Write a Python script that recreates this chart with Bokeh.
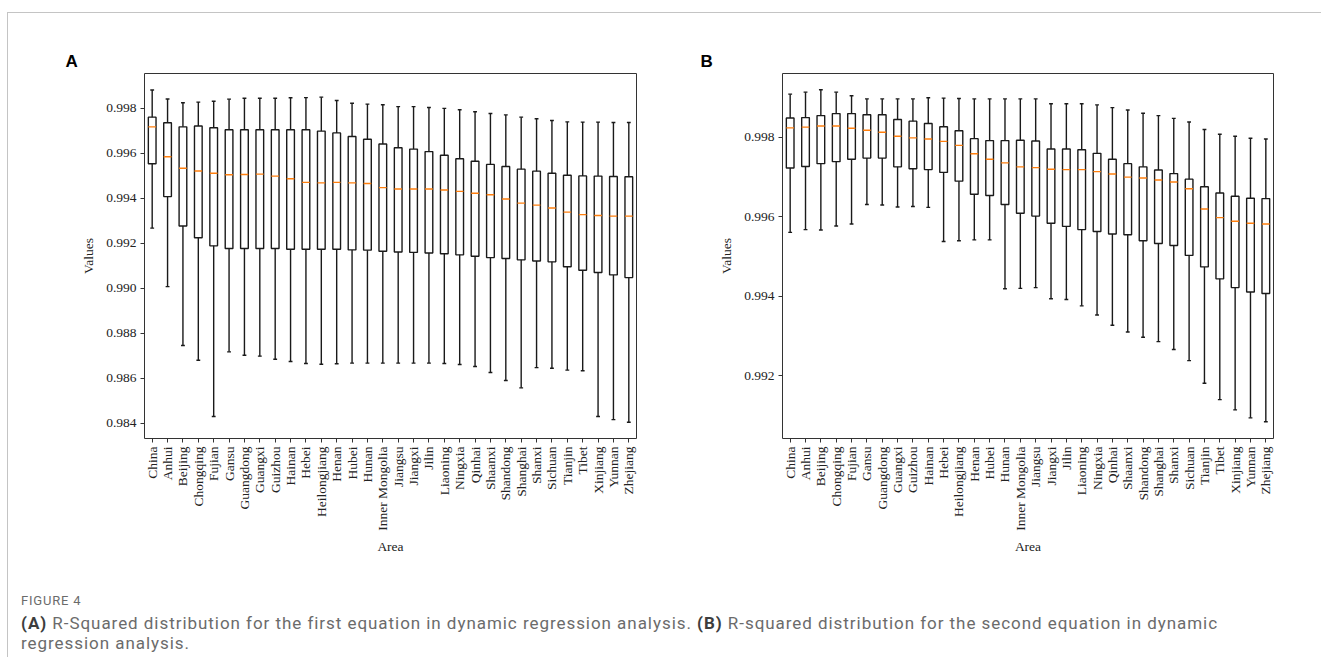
import numpy as np
from bokeh.plotting import figure
from bokeh.models import FixedTicker, PrintfTickFormatter, Div, Range1d, Spacer
from bokeh.layouts import row, column
from bokeh.embed import file_html
from bokeh.resources import INLINE

areas = ["China", "Anhui", "Beijing", "Chongqing", "Fujian", "Gansu", "Guangdong", "Guangxi",
         "Guizhou", "Hainan", "Hebei", "Heilongjiang", "Henan", "Hubei", "Hunan", "Inner Mongolia",
         "Jiangsu", "Jiangxi", "Jilin", "Liaoning", "Ningxia", "Qinhai", "Shaanxi", "Shandong",
         "Shanghai", "Shanxi", "Sichuan", "Tianjin", "Tibet", "Xinjiang", "Yunnan", "Zhejiang"]

# Panel A (first equation)
hiA = [0.99881, 0.99841, 0.99824, 0.99827, 0.99831, 0.99840, 0.99844, 0.99844, 0.99844, 0.99846, 0.99847,
       0.99849, 0.99834, 0.99822, 0.99818, 0.99815, 0.99807, 0.99807, 0.99803, 0.99799, 0.99793, 0.99784,
       0.99776, 0.99770, 0.99760, 0.99753, 0.99745, 0.99739, 0.99738, 0.99738, 0.99736, 0.99736]
q3A = [0.99760, 0.99735, 0.99717, 0.99721, 0.99713, 0.99704, 0.99704, 0.99704, 0.99704, 0.99704, 0.99704,
       0.99698, 0.99690, 0.99674, 0.99662, 0.99641, 0.99624, 0.99618, 0.99607, 0.99591, 0.99575, 0.99564,
       0.99550, 0.99541, 0.99529, 0.99520, 0.99511, 0.99502, 0.99499, 0.99498, 0.99496, 0.99495]
medA = [0.99717, 0.99584, 0.99533, 0.99521, 0.99511, 0.99504, 0.99505, 0.99507, 0.99498, 0.99486, 0.99470,
        0.99468, 0.99470, 0.99468, 0.99465, 0.99447, 0.99441, 0.99441, 0.99441, 0.99436, 0.99430, 0.99422,
        0.99415, 0.99396, 0.99378, 0.99369, 0.99356, 0.99338, 0.99327, 0.99323, 0.99320, 0.99320]
q1A = [0.99553, 0.99407, 0.99276, 0.99224, 0.99188, 0.99176, 0.99176, 0.99176, 0.99176, 0.99173, 0.99173,
       0.99173, 0.99173, 0.99170, 0.99169, 0.99164, 0.99161, 0.99159, 0.99156, 0.99153, 0.99148, 0.99142,
       0.99136, 0.99132, 0.99126, 0.99121, 0.99117, 0.99095, 0.99080, 0.99070, 0.99059, 0.99047]
loA = [0.99267, 0.99007, 0.98745, 0.98680, 0.98430, 0.98717, 0.98702, 0.98698, 0.98684, 0.98674, 0.98665,
       0.98662, 0.98664, 0.98667, 0.98667, 0.98667, 0.98667, 0.98667, 0.98667, 0.98665, 0.98661, 0.98652,
       0.98625, 0.98590, 0.98557, 0.98647, 0.98644, 0.98636, 0.98633, 0.98430, 0.98416, 0.98404]
ticksA = [0.984, 0.986, 0.988, 0.990, 0.992, 0.994, 0.996, 0.998]

# Panel B (second equation)
hiB = [0.99909, 0.99914, 0.99920, 0.99914, 0.99905, 0.99897, 0.99897, 0.99897, 0.99897, 0.99900, 0.99899,
       0.99898, 0.99897, 0.99897, 0.99897, 0.99897, 0.99897, 0.99885, 0.99885, 0.99885, 0.99882, 0.99875,
       0.99869, 0.99861, 0.99855, 0.99848, 0.99839, 0.99820, 0.99808, 0.99803, 0.99798, 0.99796]
q3B = [0.99849, 0.99850, 0.99855, 0.99860, 0.99860, 0.99857, 0.99857, 0.99845, 0.99841, 0.99835, 0.99827,
       0.99817, 0.99797, 0.99792, 0.99792, 0.99793, 0.99791, 0.99771, 0.99771, 0.99769, 0.99760, 0.99745,
       0.99734, 0.99726, 0.99718, 0.99709, 0.99695, 0.99676, 0.99660, 0.99652, 0.99647, 0.99646]
medB = [0.99824, 0.99826, 0.99829, 0.99829, 0.99823, 0.99818, 0.99813, 0.99803, 0.99799, 0.99796, 0.99790,
        0.99780, 0.99759, 0.99745, 0.99736, 0.99726, 0.99724, 0.99720, 0.99719, 0.99719, 0.99714, 0.99708,
        0.99700, 0.99698, 0.99693, 0.99688, 0.99671, 0.99620, 0.99598, 0.99589, 0.99584, 0.99582]
q1B = [0.99723, 0.99727, 0.99734, 0.99739, 0.99745, 0.99748, 0.99748, 0.99726, 0.99721, 0.99719, 0.99712,
       0.99690, 0.99657, 0.99654, 0.99631, 0.99609, 0.99602, 0.99584, 0.99576, 0.99568, 0.99563, 0.99557,
       0.99555, 0.99540, 0.99533, 0.99528, 0.99503, 0.99474, 0.99444, 0.99422, 0.99411, 0.99407]
loB = [0.99561, 0.99568, 0.99567, 0.99577, 0.99582, 0.99631, 0.99630, 0.99625, 0.99626, 0.99624, 0.99538,
       0.99540, 0.99542, 0.99542, 0.99419, 0.99420, 0.99422, 0.99394, 0.99392, 0.99376, 0.99353, 0.99327,
       0.99310, 0.99297, 0.99286, 0.99266, 0.99238, 0.99181, 0.99140, 0.99114, 0.99094, 0.99084]
ticksB = [0.992, 0.994, 0.996, 0.998]

SERIF = "Liberation Serif"
FRAME = "#333333"
TXT = "#222222"


def panel(letter, lo, q1, med, q3, hi, ticks, yr, width, mbl, mbr, title_offset):
    pos = np.arange(1, len(areas) + 1)
    p = figure(width=width, height=557, x_range=Range1d(0.5, len(areas) + 0.5), y_range=Range1d(*yr),
               output_backend="svg", toolbar_location=None,
               min_border_left=mbl, min_border_right=mbr, min_border_top=60, min_border_bottom=132)
    p.background_fill_color = "white"
    p.border_fill_color = "white"
    p.outline_line_color = FRAME
    p.outline_line_width = 1
    p.xgrid.visible = False
    p.ygrid.visible = False

    lc = "#1a1a1a"
    lw = 1.4
    p.segment(x0=pos, y0=q3, x1=pos, y1=hi, line_color=lc, line_width=lw)
    p.segment(x0=pos, y0=q1, x1=pos, y1=lo, line_color=lc, line_width=lw)
    p.segment(x0=pos - 0.125, y0=hi, x1=pos + 0.125, y1=hi, line_color=lc, line_width=lw)
    p.segment(x0=pos - 0.125, y0=lo, x1=pos + 0.125, y1=lo, line_color=lc, line_width=lw)
    p.vbar(x=pos, width=0.5, bottom=q1, top=q3, fill_color=None, line_color=lc, line_width=lw)
    p.segment(x0=pos - 0.25, y0=med, x1=pos + 0.25, y1=med, line_color="#ff7f0e", line_width=1.4)

    p.xaxis.ticker = FixedTicker(ticks=list(pos))
    p.xaxis.major_label_overrides = {int(i): a for i, a in zip(pos, areas)}
    p.xaxis.major_label_orientation = np.pi / 2
    p.xaxis.axis_label = "Area"
    p.xaxis.axis_label_standoff = 5

    p.yaxis.ticker = FixedTicker(ticks=ticks)
    p.yaxis.formatter = PrintfTickFormatter(format="%.3f")
    p.yaxis.axis_label = "Values"
    p.yaxis.axis_label_standoff = 7

    for axes in (p.xaxis, p.yaxis):
        axes.axis_line_color = None
        axes.major_tick_line_color = FRAME
        axes.major_tick_in = 0
        axes.major_tick_out = 4
        axes.minor_tick_line_color = None
        axes.major_label_text_font = SERIF
        axes.major_label_text_font_size = "13.5px"
        axes.major_label_text_color = TXT
        axes.axis_label_text_font = SERIF
        axes.axis_label_text_font_size = "13.5px"
        axes.axis_label_text_font_style = "normal"
        axes.axis_label_text_color = TXT
        axes.major_label_standoff = 4

    p.title.text = letter
    p.title.align = "left"
    p.title.offset = title_offset
    p.title.text_font = "Liberation Sans"
    p.title.text_font_style = "bold"
    p.title.text_font_size = "17px"
    p.title.text_color = "#000000"
    p.title.standoff = 6
    return p


pA = panel("A", loA, q1A, medA, q3A, hiA, ticksA, (0.98332, 0.99954), 692, 136, 64, -79)
pB = panel("B", loB, q1B, medB, q3B, hiB, ticksB, (0.99042, 0.99961), 621, 82, 48, -82)

caption = Div(
    text=(
        '<div style="font-family:Roboto,\'Open Sans\',sans-serif;color:#6b6b6b;padding-left:13px;">'
        '<div style="font-size:13px;line-height:14px;letter-spacing:0.8px;">FIGURE 4</div>'
        '<div style="font-size:17px;line-height:20px;margin-top:5px;letter-spacing:0.95px;white-space:nowrap;">'
        '<b style="color:#3d3d3d;">(A)</b> R-Squared distribution for the first equation in dynamic regression analysis. '
        '<b style="color:#3d3d3d;">(B)</b> R-squared distribution for the second equation in dynamic<br>'
        'regression analysis.</div></div>'
    ),
    width=1313, height=84, margin=0,
    styles={"padding-top": "24px", "box-sizing": "border-box"},
)

hline = Div(text="", width=1313, height=1, margin=0, styles={"background-color": "#c4c4c4"})
vline = Div(text="", width=1, height=645, margin=0, styles={"background-color": "#c4c4c4"})

layout = row(
    Spacer(width=7, height=1, margin=0),
    column(Spacer(width=1, height=12, margin=0), vline, spacing=0),
    column(Spacer(width=1313, height=12, margin=0), hline, row(pA, pB, spacing=0), caption, spacing=0),
    spacing=0,
)

open("out.html", "w").write(file_html(layout, INLINE))
